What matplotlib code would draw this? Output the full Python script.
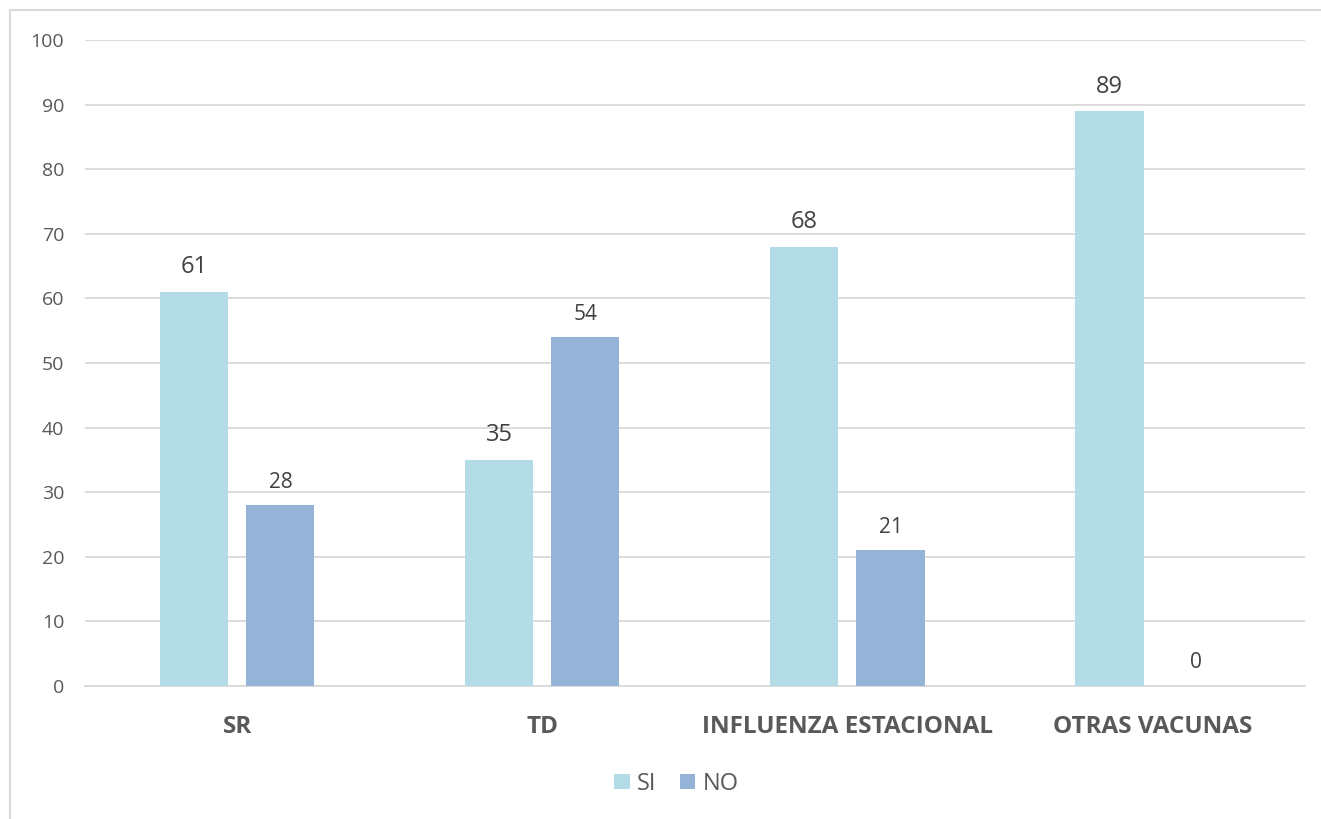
import numpy as np
import matplotlib.pyplot as plt
from matplotlib.patches import Rectangle

categories = ["SR", "TD", "INFLUENZA ESTACIONAL", "OTRAS VACUNAS"]
si_vals = [61, 35, 68, 89]
no_vals = [28, 54, 21, 0]

plt.rcParams['font.family'] = ['Open Sans', 'DejaVu Sans']
txt = '#595959'
c_si = '#B4DCE6'
c_no = '#95B3D7'

fig = plt.figure(figsize=(13.21, 8.19), dpi=100)
ax = fig.add_axes([0.0643, 0.1624, 0.9236, 0.7888])

x = np.arange(len(categories))
w = 0.223
off = 0.141
b1 = ax.bar(x - off, si_vals, w, color=c_si, label='SI', zorder=3)
b2 = ax.bar(x + off, no_vals, w, color=c_no, label='NO', zorder=3)

for r, v in zip(b1, si_vals):
    ax.annotate(str(v), (r.get_x() + r.get_width() / 2, v), xytext=(0, 9),
                textcoords='offset points', ha='center', va='bottom',
                fontsize=17, color='#404040')
for r, v in zip(b2, no_vals):
    ax.annotate(str(v), (r.get_x() + r.get_width() / 2, v), xytext=(0, 9),
                textcoords='offset points', ha='center', va='bottom',
                fontsize=15, color='#404040')

ax.set_xlim(-0.5, len(categories) - 0.5)
ax.set_ylim(0, 100)
ax.set_yticks(range(0, 101, 10))
ax.yaxis.grid(True, color='#D9D9D9', linewidth=1.3, zorder=0)
ax.set_axisbelow(True)
for s in ['top', 'right', 'left']:
    ax.spines[s].set_visible(False)
ax.spines['bottom'].set_color('#D9D9D9')
ax.spines['bottom'].set_linewidth(1.3)
ax.tick_params(axis='both', length=0, colors=txt, labelsize=14)
ax.tick_params(axis='y', pad=15)
ax.tick_params(axis='x', pad=21)
ax.set_xticks(x)
ax.set_xticklabels(categories, fontsize=17.5, fontweight='bold', color=txt)

leg = fig.legend(handles=[b1, b2], labels=['SI', 'NO'], loc='center',
                 bbox_to_anchor=(0.512, 0.043), ncol=2, frameon=False,
                 fontsize=17, handlelength=0.65, handleheight=0.65,
                 handletextpad=0.3, columnspacing=1.0)
for t in leg.get_texts():
    t.set_color(txt)

# outer chart frame (partially cut off in the original)
fig.patches.append(Rectangle((10 / 1321, -0.1), 1.2, (819 - 10) / 819 + 0.1,
                             transform=fig.transFigure, fill=False,
                             edgecolor='#D9D9D9', linewidth=1.5))

fig.savefig('out.png', dpi=100)
